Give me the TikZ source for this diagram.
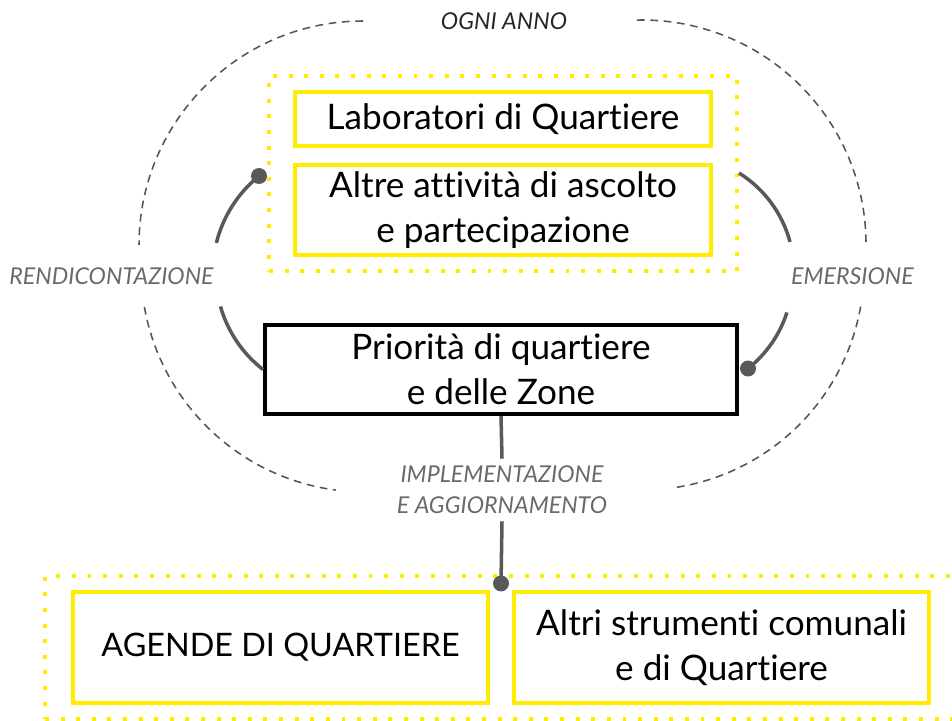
\documentclass[tikz,border=0pt]{standalone}
\usepackage{fontspec}
\setmainfont{Lato}[Ligatures=NoCommon]
\usetikzlibrary{positioning,fit,calc}
\definecolor{quartyellow}{RGB}{255,237,0}
\definecolor{linkgray}{RGB}{89,89,89}
\definecolor{labelgray}{RGB}{105,105,105}
\definecolor{ringgray}{RGB}{85,85,85}

\begin{document}
\begin{tikzpicture}[
        x=0.025cm, y=-0.025cm,
        node distance=0.375cm and 0.55cm,
        yellowbox/.style={draw=quartyellow, line width=2.8pt, align=center,
            minimum width=#1, font=\fontsize{25}{32}\selectfont},
        yellowbox/.default=10.4cm,
        blackbox/.style={draw=black, line width=2.8pt, align=center,
            minimum width=11.8cm, minimum height=2.225cm,
            font=\fontsize{25}{32}\selectfont},
        dotbox/.style={draw=quartyellow, line width=2.8pt,
            dash pattern=on 2.8pt off 8.3pt},
        link/.style={draw=linkgray, line width=2.5pt},
        dotend/.style={fill=linkgray},
        ring/.style={draw=ringgray, line width=1.1pt, dash pattern=on 5.5pt off 4pt},
        phase/.style={font=\itshape\fontsize{16.5}{22}\selectfont, text=labelgray, align=center}
    ]
        \path[use as bounding box, clip] (0,0) rectangle (952,721);

        % ciclo annuale
        \node[yellowbox, minimum height=1.35cm] (lab) at (503,119) {Laboratori di Quartiere};
        \node[yellowbox, minimum height=2.25cm, below=of lab] (ascolto) {Altre attività di ascolto\\e partecipazione};
        \node[dotbox, fit=(lab)(ascolto), inner xsep=0.6cm, inner ysep=0.36cm] (ascoltogroup) {};
        \node[blackbox] (prio) at (501,369.5) {Priorità di quartiere\\e delle Zone};

        \draw[ring] (363,245) ++(-90:224) arc[start angle=-90, end angle=-180, radius=224];
        \draw[ring] (365,268) ++(170:224) arc[start angle=170, end angle=97.5, radius=224];
        \draw[ring] (642,244) ++(-91.3:224) arc[start angle=-91.3, end angle=0, radius=224];
        \draw[ring] (642,268) ++(10:222) arc[start angle=10, end angle=82, radius=222];

        \node[phase, text=black!85] (ogni) at (504,21) {OGNI ANNO};
        \node[phase] (rendic) at (111.5,276) {RENDICONTAZIONE};
        \node[phase] (emers) at (852.5,276) {EMERSIONE};
        \node[phase, inner sep=0.18cm] (implem) at (502,490) {IMPLEMENTAZIONE\\E AGGIORNAMENTO};

        % rendicontazione
        \coordinate (rendic-dot) at (259,176);
        \draw[link] (rendic-dot) arc[start angle=-129, end angle=-166, radius=125];
        \draw[link] (prio.west) arc[start angle=128, end angle=164, radius=123];
        \fill[dotend] (rendic-dot) circle[radius=8];

        % emersione
        \coordinate (emers-start) at (ascoltogroup.east |- 0,173);
        \coordinate (emers-dot) at ($(prio.east)+(9,-1)$);
        \draw[link] (emers-start) arc[start angle=-58, end angle=-15, radius=117];
        \draw[link] (emers-dot) arc[start angle=51.7, end angle=17.8, radius=117];
        \fill[dotend] (emers-dot) circle[radius=8];

        % strumenti
        \node[yellowbox=10.375cm, minimum height=2.775cm, font=\fontsize{23}{32}\selectfont] (agende) at (280.5,647.5) {AGENDE DI QUARTIERE};
        \node[yellowbox=10.375cm, minimum height=2.775cm, right=of agende] (strumenti) {Altri strumenti comunali\\e di Quartiere};
        \node[dotbox, fit=(agende)(strumenti), inner xsep=0.65cm, inner ysep=0.34cm] (strumentigroup) {};

        \coordinate (implem-dot) at ($(strumentigroup.north -| prio.south)+(0,9)$);
        \draw[link] (prio.south) -- (implem.north);
        \draw[link] (implem.south) -- (implem-dot);
        \fill[dotend] (implem-dot) circle[radius=8];
    \end{tikzpicture}
\end{document}
